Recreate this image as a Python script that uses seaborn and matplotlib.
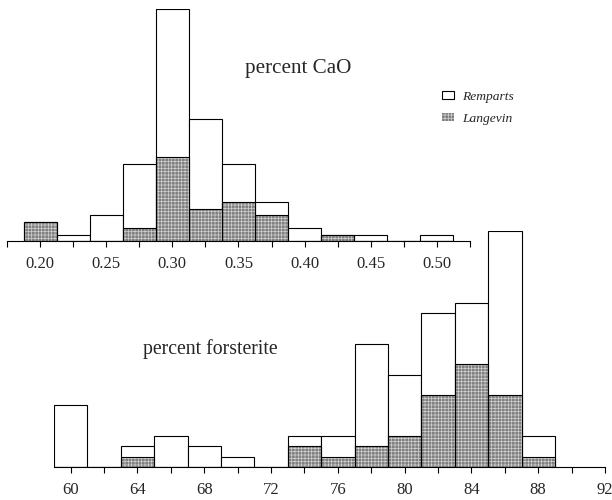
import numpy as np
import pandas as pd
import matplotlib
matplotlib.use("Agg")
import matplotlib.pyplot as plt
from matplotlib.patches import Patch
import seaborn as sns

# ---- data ----
cao_centers = [0.200, 0.225, 0.250, 0.275, 0.300, 0.325, 0.350, 0.375,
               0.400, 0.425, 0.450, 0.475, 0.500]
cao_remparts = [0, 1, 4, 10, 23, 14, 6, 2, 2, 0, 1, 0, 1]
cao_langevin = [3, 0, 0, 2, 13, 5, 6, 4, 0, 1, 0, 0, 0]
cao_ticks = [0.175, 0.20, 0.225, 0.25, 0.275, 0.30, 0.325, 0.35, 0.375,
             0.40, 0.425, 0.45, 0.475, 0.50, 0.525]
cao_labels = ["", "0.20", "", "0.25", "", "0.30", "", "0.35", "",
              "0.40", "", "0.45", "", "0.50", ""]

fo_centers = [60, 62, 64, 66, 68, 70, 72, 74, 76, 78, 80, 82, 84, 86, 88]
fo_remparts = [6, 0, 1, 3, 2, 1, 0, 1, 2, 10, 6, 8, 6, 16, 2]
fo_langevin = [0, 0, 1, 0, 0, 0, 0, 2, 1, 2, 3, 7, 10, 7, 1]
fo_ticks = [60, 62, 64, 66, 68, 70, 72, 74, 76, 78, 80, 82, 84, 86, 88, 90, 92]
fo_labels = ["60", "", "64", "", "68", "", "72", "", "76", "", "80", "",
             "84", "", "88", "", "92"]

series_names = ["Remparts", "Langevin"]
title_cao = "percent CaO"
title_fo = "percent forsterite"

# ---- style ----
sns.set_style("white")
plt.rcParams["font.family"] = ["Liberation Serif", "DejaVu Serif"]
plt.rcParams["hatch.linewidth"] = 0.5

GRAY = "#808080"
HATCH = "#d0d0d0"
HATCH_PAT = "+++++"

W, H = 612, 500
fig = plt.figure(figsize=(W / 100, H / 100), dpi=100)


def px_axes(x0, x1, ybase, ytop):
    return fig.add_axes([x0 / W, (H - ybase) / H, (x1 - x0) / W, (ybase - ytop) / H])


def draw_hist(ax, centers, rem, lang, width):
    c = np.asarray(centers, float)
    edges = [float(v) for v in np.append(c - width / 2, c[-1] + width / 2)]
    df = pd.DataFrame({"x": c,
                       "total": np.asarray(rem, float) + np.asarray(lang, float),
                       "lang": np.asarray(lang, float)})
    sns.histplot(data=df, x="x", weights="total", bins=edges, ax=ax,
                 color="white", edgecolor="black", linewidth=0.8, alpha=1)
    sns.histplot(data=df, x="x", weights="lang", bins=edges, ax=ax,
                 color=GRAY, edgecolor=HATCH, linewidth=0, alpha=1, hatch=HATCH_PAT)
    sns.histplot(data=df, x="x", weights="lang", bins=edges, ax=ax,
                 fill=False, color="black", linewidth=0.8)


def style_axis(ax, xlim, ylim, ticks, labels):
    ax.set_xlim(*xlim)
    ax.set_ylim(*ylim)
    ax.set_xticks(ticks)
    ax.set_xticklabels(labels, fontsize=12)
    ax.set_yticks([])
    ax.set_xlabel("")
    ax.set_ylabel("")
    for s in ["top", "right", "left"]:
        ax.spines[s].set_visible(False)
    ax.spines["bottom"].set_color("black")
    ax.spines["bottom"].set_linewidth(0.8)
    ax.tick_params(axis="x", direction="out", length=4.5, width=0.8,
                   color="black", pad=6.5, bottom=True)
    ax.patch.set_alpha(0)


# top: CaO
ax1 = px_axes(7, 470, 241, 9)
draw_hist(ax1, cao_centers, cao_remparts, cao_langevin, 0.025)
style_axis(ax1, (0.175, 0.525), (0, 36), cao_ticks, cao_labels)

# bottom: forsterite
ax2 = px_axes(54, 605, 467, 231)
draw_hist(ax2, fo_centers, fo_remparts, fo_langevin, 2)
style_axis(ax2, (59, 92), (0, 23), fo_ticks, fo_labels)

fig.text(298 / W, 1 - 69 / H, title_cao, ha="center", va="center", fontsize=15.2)
fig.text(210 / W, 1 - 349 / H, title_fo, ha="center", va="center", fontsize=14.2)

handles = [Patch(facecolor="white", edgecolor="black", linewidth=0.8),
           Patch(facecolor=GRAY, edgecolor=HATCH, linewidth=0, hatch=HATCH_PAT)]
fig.legend(handles, series_names, loc="upper left",
           bbox_to_anchor=(442 / W, 1 - 91 / H), frameon=False,
           prop={"family": "Liberation Serif", "style": "italic", "size": 9.7},
           handlelength=0.9, handleheight=0.55, handletextpad=0.6,
           labelspacing=0.75, borderpad=0, borderaxespad=0)

fig.savefig("out.png", dpi=100)
